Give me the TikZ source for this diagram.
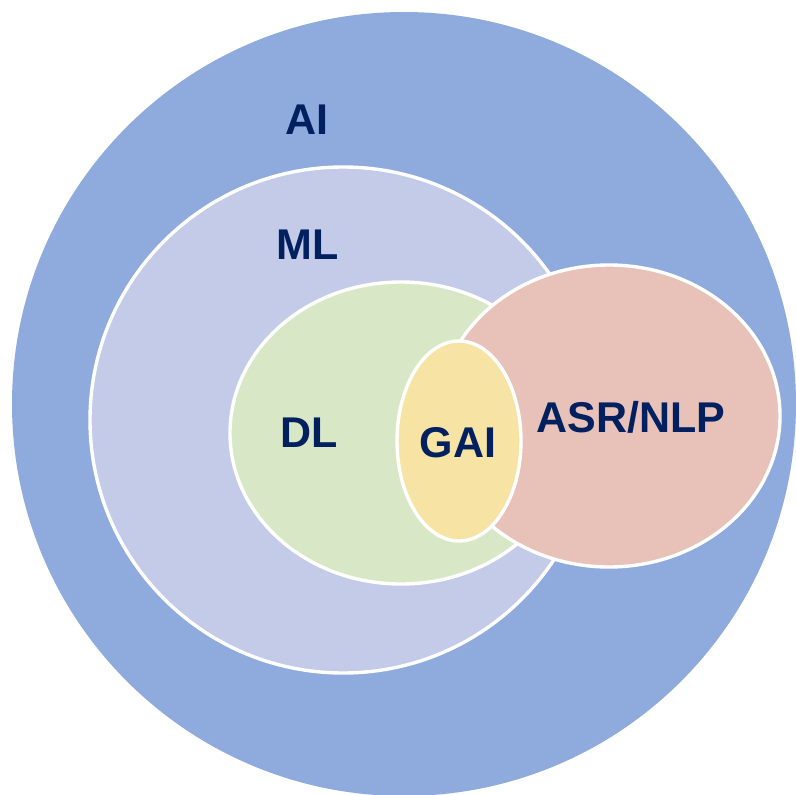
\documentclass[tikz,border=0pt]{standalone}
\usepackage{fontspec}
\setmainfont{Liberation Sans}
\usepackage{tikz}
\usetikzlibrary{positioning}
\definecolor{aiblue}{RGB}{143,170,220}
\definecolor{mlblue}{RGB}{196,203,233}
\definecolor{dlgreen}{RGB}{216,232,198}
\definecolor{gaiyellow}{RGB}{247,228,164}
\definecolor{asrpink}{RGB}{232,193,184}
\definecolor{labelnavy}{RGB}{0,32,96}
\tikzstyle{area} = [draw=white, line width=3.4pt]
\tikzstyle{tag} = [anchor=base, inner sep=0pt, text=labelnavy, font=\fontsize{43}{50}\selectfont\bfseries]

\begin{document}
\begin{tikzpicture}[x=1pt, y=-1pt]
			\useasboundingbox (0,0) rectangle (796,795);
			\fill [aiblue] (404,404) circle [radius=392pt];
			\path [area, fill=mlblue] (343,420) circle [radius=253pt];
			\path [area, fill=dlgreen] (401,433) ellipse [x radius=171pt, y radius=151pt];
			\path [area, fill=asrpink] (609,416) ellipse [x radius=171pt, y radius=151pt];
			\path [area, fill=gaiyellow] (459,441) ellipse [x radius=62pt, y radius=100pt];
			
			\node [tag] (ai) at (307,134) {AI};
			\node [tag] (ml) at (308,259) {ML};
			\node [tag] (dl) at (309,447) {DL};
			\node [tag] (gai) at (458,457) {GAI};
			\node [tag] (asr) at (631,432) {ASR/NLP};
		\end{tikzpicture}
\end{document}
